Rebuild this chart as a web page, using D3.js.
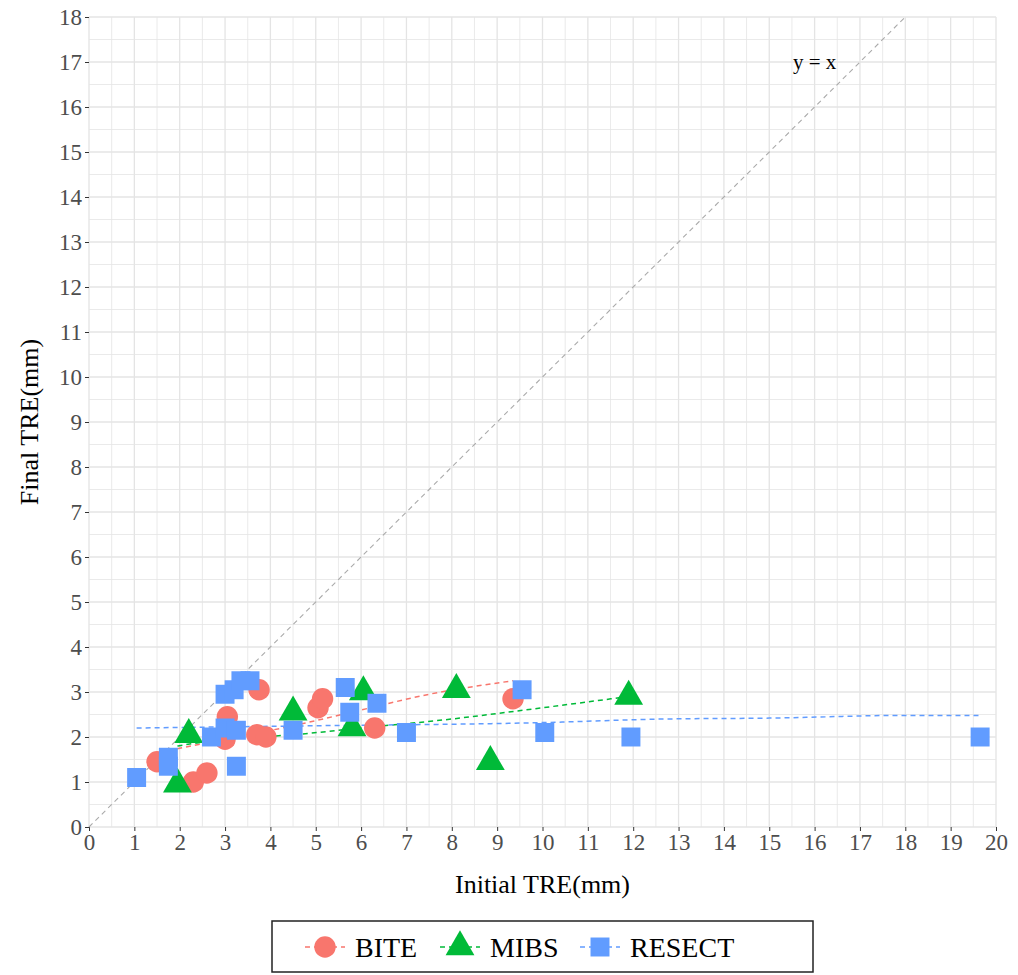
<!DOCTYPE html>
<html><head><meta charset="utf-8">
<script src="https://cdn.jsdelivr.net/npm/d3@7"></script>
<style>body{margin:0;background:#fff}text{font-family:"Liberation Serif",serif}</style>
</head><body><svg width="1018" height="975"></svg>
<script>
const biteX = [1.5, 2.3, 2.6, 3.0, 3.05, 3.75, 3.7, 3.9, 5.05, 5.15, 6.3, 9.35];
const biteY = [1.45, 1.0, 1.2, 1.95, 2.45, 3.05, 2.05, 2.0, 2.65, 2.85, 2.2, 2.85];
const mibsX = [1.95, 2.2, 4.5, 5.8, 6.05, 8.1, 8.85, 11.9];
const mibsY = [0.95, 2.05, 2.55, 2.2, 3.0, 3.05, 1.45, 2.9];
const resectX = [1.05, 1.75, 1.75, 2.7, 3.0, 3.0, 3.2, 3.35, 3.55, 3.25, 3.25, 4.5, 5.65, 5.75, 6.35, 7.0, 9.55, 10.05, 11.95, 19.65];
const resectY = [1.1, 1.55, 1.35, 2.0, 2.2, 2.95, 3.05, 3.25, 3.25, 2.15, 1.35, 2.15, 3.1, 2.55, 2.75, 2.1, 3.05, 2.1, 2.0, 2.0];
// smoothed trend lines
const biteFitX = [1.75, 3, 4.5, 6, 7.5, 9.35];
const biteFitY = [1.7, 1.95, 2.25, 2.6, 2.95, 3.25];
const mibsFitX = [1.95, 3, 4.5, 6, 8, 10, 11.9];
const mibsFitY = [1.8, 1.95, 2.05, 2.2, 2.4, 2.65, 2.9];
const resectFitX = [1.05, 5, 10, 12.7, 15, 18, 19.65];
const resectFitY = [2.2, 2.25, 2.32, 2.4, 2.42, 2.48, 2.48];

const series = [
  {name: "BITE", color: "#f8766d", shape: d3.symbolCircle, x: biteX, y: biteY, fx: biteFitX, fy: biteFitY},
  {name: "MIBS", color: "#00ba38", shape: d3.symbolTriangle, x: mibsX, y: mibsY, fx: mibsFitX, fy: mibsFitY},
  {name: "RESECT", color: "#619cff", shape: d3.symbolSquare, x: resectX, y: resectY, fx: resectFitX, fy: resectFitY}
];

const svg = d3.select("svg");
const L = 89, R = 996, T = 17, B = 827;
const x = d3.scaleLinear().domain([0, 20]).range([L, R]);
const y = d3.scaleLinear().domain([0, 18]).range([B, T]);

const grid = svg.append("g").attr("stroke", "#e4e4e4");
d3.range(0, 20.01, 0.5).forEach(v => grid.append("line").attr("x1", x(v)).attr("x2", x(v)).attr("y1", T).attr("y2", B)
  .attr("stroke-width", v % 1 ? 0.8 : 1.3));
d3.range(0, 18.01, 0.5).forEach(v => grid.append("line").attr("y1", y(v)).attr("y2", y(v)).attr("x1", L).attr("x2", R)
  .attr("stroke-width", v % 1 ? 0.8 : 1.3));

const xa = svg.append("g").attr("transform", `translate(0,${B})`)
  .call(d3.axisBottom(x).tickValues(d3.range(0, 21)).tickSize(4).tickPadding(3));
const ya = svg.append("g").attr("transform", `translate(${L},0)`)
  .call(d3.axisLeft(y).tickValues(d3.range(0, 19)).tickSize(4).tickPadding(3));
[xa, ya].forEach(a => {
  a.select(".domain").remove();
  a.selectAll("line").attr("stroke", "#333");
  a.selectAll("text").attr("fill", "#4d4d4d").style("font-size", "23px").style("font-family", "Liberation Serif");
});

// y = x
svg.append("line").attr("x1", x(0)).attr("y1", y(0)).attr("x2", x(18)).attr("y2", y(18))
  .attr("stroke", "#aaa").attr("stroke-dasharray", "5,4").attr("stroke-width", 1.1);
svg.append("text").attr("x", x(16)).attr("y", y(16.85)).attr("text-anchor", "middle")
  .style("font-size", "21px").text("y = x");

const line = d3.line().curve(d3.curveMonotoneX);
series.forEach(s => {
  svg.append("path").attr("d", line(s.fx.map((v, i) => [x(v), y(s.fy[i])])))
    .attr("fill", "none").attr("stroke", s.color).attr("stroke-width", 1.5).attr("stroke-dasharray", "5,4");
});
series.forEach(s => {
  const sym = d3.symbol().type(s.shape).size(360);
  svg.append("g").selectAll("path").data(s.x).join("path")
    .attr("transform", (d, i) => `translate(${x(d)},${y(s.y[i])})`)
    .attr("d", sym).attr("fill", s.color);
});

svg.append("text").attr("x", (L + R) / 2).attr("y", 893).attr("text-anchor", "middle")
  .style("font-size", "26px").text("Initial TRE(mm)");
svg.append("text").attr("transform", `translate(38,${(T + B) / 2}) rotate(-90)`).attr("text-anchor", "middle")
  .style("font-size", "26px").text("Final TRE(mm)");

// legend
const lg = svg.append("g");
lg.append("rect").attr("x", 272).attr("y", 921).attr("width", 541).attr("height", 51)
  .attr("fill", "#fff").attr("stroke", "#222").attr("stroke-width", 1.5);
const lx = [305, 440, 580];
series.forEach((s, i) => {
  lg.append("line").attr("x1", lx[i]).attr("x2", lx[i] + 40).attr("y1", 947).attr("y2", 947)
    .attr("stroke", s.color).attr("stroke-width", 1.5).attr("stroke-dasharray", "5,4");
  lg.append("path").attr("transform", `translate(${lx[i] + 20},947)`).attr("d", d3.symbol().type(s.shape).size(360)).attr("fill", s.color);
  lg.append("text").attr("x", lx[i] + 50).attr("y", 957).style("font-size", "28px").text(s.name);
});
</script></body></html>
